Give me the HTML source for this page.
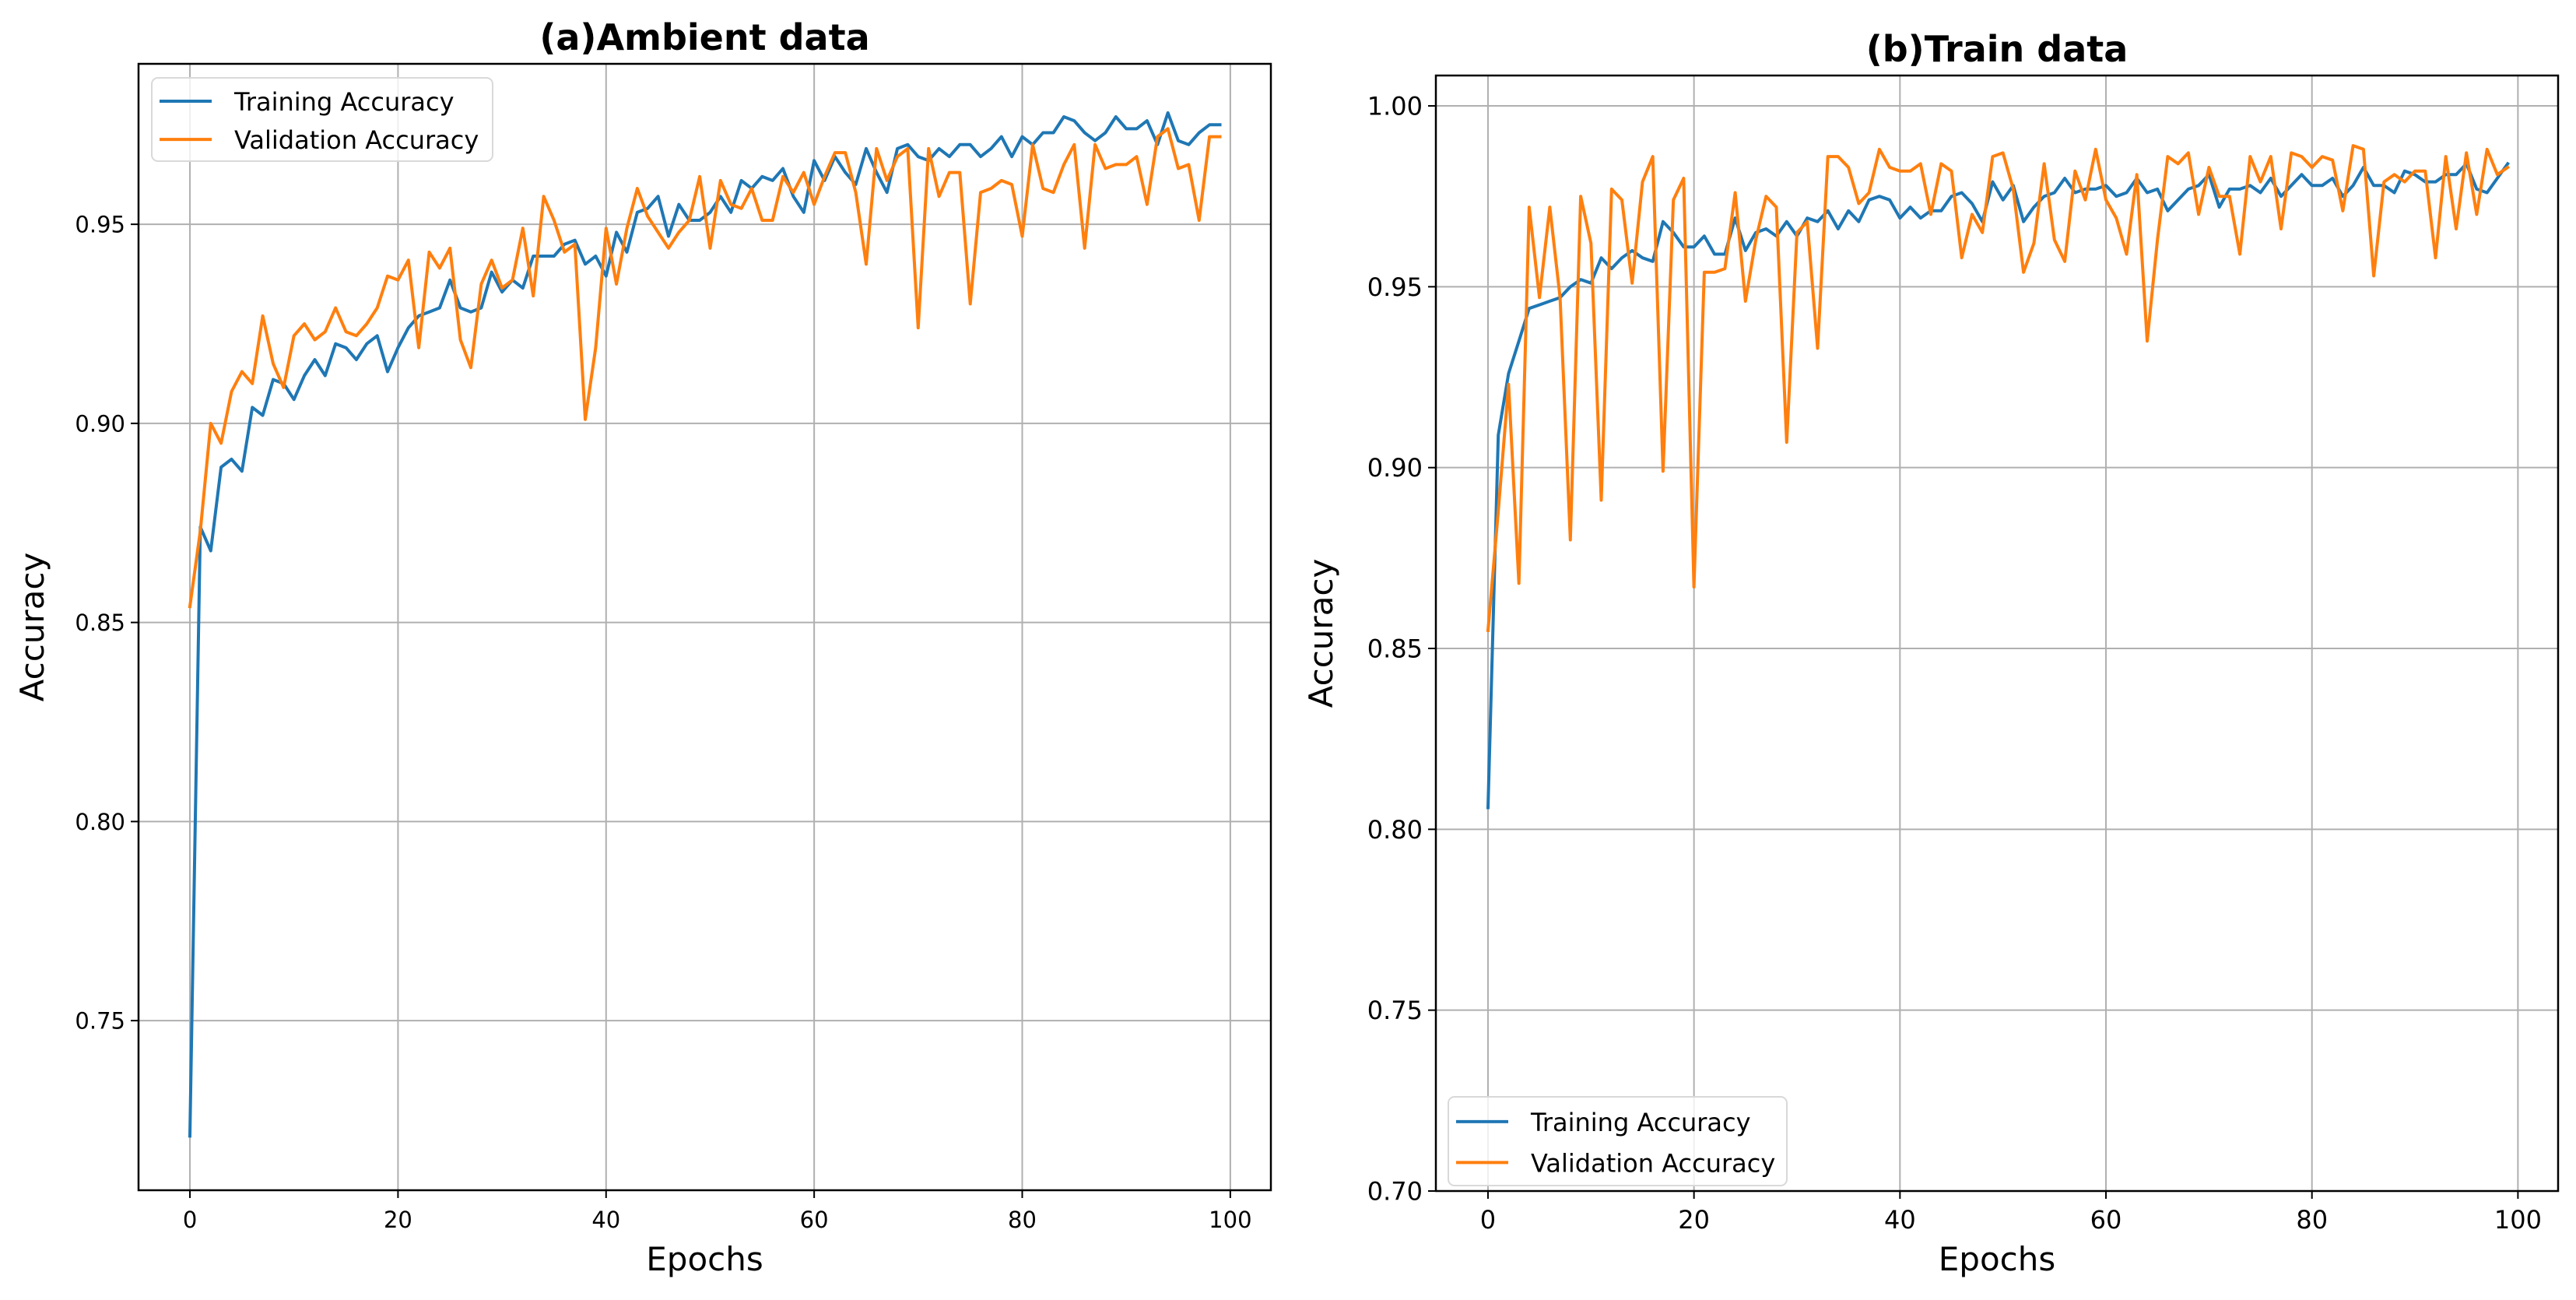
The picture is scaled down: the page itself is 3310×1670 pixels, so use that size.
<!DOCTYPE html>
<html><head><meta charset="utf-8"><style>
html,body{margin:0;padding:0;background:#fff;}
svg{display:block;font-family:"DejaVu Sans","Liberation Sans",sans-serif;}
</style></head><body>
<svg id="chart" width="3310" height="1670" viewBox="0 0 3310 1670" xmlns="http://www.w3.org/2000/svg"></svg>
<script>
const epochs = Array.from({length:100},(_, i)=>i);
const ambientTrain = [0.721,0.874,0.868,0.889,0.891,0.888,0.904,0.902,0.911,0.910,0.906,0.912,0.916,0.912,0.920,0.919,0.916,0.920,0.922,0.913,0.919,0.924,0.927,0.928,0.929,0.936,0.929,0.928,0.929,0.938,0.933,0.936,0.934,0.942,0.942,0.942,0.945,0.946,0.940,0.942,0.937,0.948,0.943,0.953,0.954,0.957,0.947,0.955,0.951,0.951,0.953,0.957,0.953,0.961,0.959,0.962,0.961,0.964,0.957,0.953,0.966,0.961,0.967,0.963,0.960,0.969,0.963,0.958,0.969,0.970,0.967,0.966,0.969,0.967,0.970,0.970,0.967,0.969,0.972,0.967,0.972,0.970,0.973,0.973,0.977,0.976,0.973,0.971,0.973,0.977,0.974,0.974,0.976,0.970,0.978,0.971,0.970,0.973,0.975,0.975];
const ambientVal = [0.854,0.873,0.900,0.895,0.908,0.913,0.910,0.927,0.915,0.909,0.922,0.925,0.921,0.923,0.929,0.923,0.922,0.925,0.929,0.937,0.936,0.941,0.919,0.943,0.939,0.944,0.921,0.914,0.935,0.941,0.934,0.936,0.949,0.932,0.957,0.951,0.943,0.945,0.901,0.919,0.949,0.935,0.949,0.959,0.952,0.948,0.944,0.948,0.951,0.962,0.944,0.961,0.955,0.954,0.959,0.951,0.951,0.962,0.958,0.963,0.955,0.962,0.968,0.968,0.958,0.940,0.969,0.961,0.967,0.969,0.924,0.969,0.957,0.963,0.963,0.930,0.958,0.959,0.961,0.960,0.947,0.970,0.959,0.958,0.965,0.970,0.944,0.970,0.964,0.965,0.965,0.967,0.955,0.972,0.974,0.964,0.965,0.951,0.972,0.972];
const trainTrain = [0.806,0.909,0.926,0.935,0.944,0.945,0.946,0.947,0.950,0.952,0.951,0.958,0.955,0.958,0.960,0.958,0.957,0.968,0.965,0.961,0.961,0.964,0.959,0.959,0.969,0.960,0.965,0.966,0.964,0.968,0.964,0.969,0.968,0.971,0.966,0.971,0.968,0.974,0.975,0.974,0.969,0.972,0.969,0.971,0.971,0.975,0.976,0.973,0.968,0.979,0.974,0.978,0.968,0.972,0.975,0.976,0.980,0.976,0.977,0.977,0.978,0.975,0.976,0.980,0.976,0.977,0.971,0.974,0.977,0.978,0.981,0.972,0.977,0.977,0.978,0.976,0.980,0.975,0.978,0.981,0.978,0.978,0.980,0.975,0.978,0.983,0.978,0.978,0.976,0.982,0.981,0.979,0.979,0.981,0.981,0.984,0.977,0.976,0.980,0.984];
const trainVal = [0.855,0.888,0.923,0.868,0.972,0.947,0.972,0.947,0.880,0.975,0.962,0.891,0.977,0.974,0.951,0.979,0.986,0.899,0.974,0.980,0.867,0.954,0.954,0.955,0.976,0.946,0.963,0.975,0.972,0.907,0.965,0.968,0.933,0.986,0.986,0.983,0.973,0.976,0.988,0.983,0.982,0.982,0.984,0.970,0.984,0.982,0.958,0.970,0.965,0.986,0.987,0.977,0.954,0.962,0.984,0.963,0.957,0.982,0.974,0.988,0.974,0.969,0.959,0.981,0.935,0.963,0.986,0.984,0.987,0.970,0.983,0.975,0.975,0.959,0.986,0.979,0.986,0.966,0.987,0.986,0.983,0.986,0.985,0.971,0.989,0.988,0.953,0.979,0.981,0.979,0.982,0.982,0.958,0.986,0.966,0.987,0.970,0.988,0.981,0.983];
const xTicks = [0,20,40,60,80,100];
const leftYTicks = [0.75,0.80,0.85,0.90,0.95];
const rightYTicks = [0.70,0.75,0.80,0.85,0.90,0.95,1.00];

const NS="http://www.w3.org/2000/svg";
const svg=document.getElementById('chart');
function mk(tag,attrs,parent,text){const e=document.createElementNS(NS,tag);for(const k in attrs)e.setAttribute(k,attrs[k]);if(text!==undefined)e.textContent=text;(parent||svg).appendChild(e);return e;}

function panel(cfg){
  const g=mk('g',{});
  
  
  const L=cfg.left,R=cfg.right,T=cfg.top,B=cfg.bottom;
  const xs=v=>L+(v-cfg.xmin)/(cfg.xmax-cfg.xmin)*(R-L);
  const ys=v=>B-(v-cfg.ymin)/(cfg.ymax-cfg.ymin)*(B-T);
  xTicks.forEach(t=>{
    const l=mk('line',{x1:xs(t),x2:xs(t),y1:T,y2:B,stroke:'#b0b0b0','stroke-width':2},g);
    
    
  });
  cfg.yTicks.forEach(t=>{
    const l=mk('line',{x1:L,x2:R,y1:ys(t),y2:ys(t),stroke:'#b0b0b0','stroke-width':2},g);
    
    
  });
  const series=[[cfg.train,'#1f77b4','training-accuracy-line'],[cfg.val,'#ff7f0e','validation-accuracy-line']];
  series.forEach(([arr,col,nm])=>{
    const pts=arr.map((v,i)=>xs(epochs[i]).toFixed(1)+','+ys(v).toFixed(1)).join(' ');
    const p=mk('polyline',{points:pts,fill:'none',stroke:col,'stroke-width':4,'stroke-linejoin':'round','stroke-linecap':'square'},g);
    
    
  });
  const fr=mk('rect',{x:L,y:T,width:R-L,height:B-T,fill:'none',stroke:'#000','stroke-width':2.5},g);
  
  
  xTicks.forEach(t=>{
    mk('line',{x1:xs(t),x2:xs(t),y1:B,y2:B+10,stroke:'#000','stroke-width':2},g);
    const tx=mk('text',{x:xs(t),y:B+48,'font-size':cfg.tickFs,'text-anchor':'middle',fill:'#000'},g,String(t));
    
    
  });
  cfg.yTicks.forEach(t=>{
    mk('line',{x1:L-10,x2:L,y1:ys(t),y2:ys(t),stroke:'#000','stroke-width':2},g);
    const tx=mk('text',{x:L-17,y:ys(t)+cfg.tickFs*0.36,'font-size':cfg.tickFs,'text-anchor':'end',fill:'#000'},g,t.toFixed(2));
    
    
  });
  const xl=mk('text',{x:(L+R)/2,y:1632,'font-size':42,'text-anchor':'middle',fill:'#000'},g,'Epochs');
  
  
  const yl=mk('text',{x:0,y:0,'font-size':42,'text-anchor':'middle',fill:'#000',transform:`translate(${cfg.ylx},${(T+B)/2}) rotate(-90)`},g,'Accuracy');
  
  
  const ti=mk('text',{x:(L+R)/2,y:T-18,'font-size':46,'font-weight':'bold','text-anchor':'middle',fill:'#000'},g,cfg.title);
  
  
  const lg=mk('g',{},g);
  
  
  const lx=cfg.lx,ly=cfg.ly,lw=cfg.lw,lh=cfg.lh;
  mk('rect',{x:lx,y:ly,width:lw,height:lh,rx:8,fill:'#fff','fill-opacity':0.8,stroke:'#d9d9d9','stroke-width':2},lg);
  const labels=[['Training Accuracy','#1f77b4'],['Validation Accuracy','#ff7f0e']];
  labels.forEach(([txt,col],i)=>{
    const cy=ly+lh*0.28+i*lh*0.46;
    const e=mk('g',{},lg);
    
    
    mk('line',{x1:lx+10,x2:lx+77,y1:cy,y2:cy,stroke:col,'stroke-width':4},e);
    mk('text',{x:lx+106,y:cy+12,'font-size':cfg.legFs,fill:'#000'},e,txt);
  });
}

panel({name:'ambient-data-chart',title:'(a)Ambient data',left:178,right:1633,top:82,bottom:1529,
  xmin:-4.94,xmax:103.9,ymin:0.7074,ymax:0.9903,yTicks:leftYTicks,train:ambientTrain,val:ambientVal,
  tickFs:29,legFs:32,ylx:56,lx:195,ly:100,lw:438,lh:107});
panel({name:'train-data-chart',title:'(b)Train data',left:1845,right:3287,top:97,bottom:1530,
  xmin:-5.06,xmax:103.9,ymin:0.70,ymax:1.0084,yTicks:rightYTicks,train:trainTrain,val:trainVal,
  tickFs:32,legFs:32,ylx:1712,lx:1861,ly:1409,lw:435,lh:114});
</script>
</body></html>
